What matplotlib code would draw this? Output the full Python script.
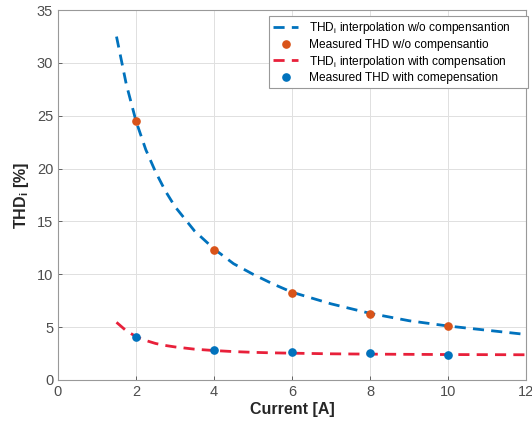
import matplotlib
matplotlib.use("Agg")
import matplotlib.pyplot as plt

plt.rcParams['font.family'] = ['Liberation Sans', 'DejaVu Sans']
plt.rcParams['mathtext.fontset'] = 'custom'
plt.rcParams['mathtext.rm'] = 'Liberation Sans'
plt.rcParams['mathtext.bf'] = 'Liberation Sans:bold'

# Measured points
current_meas = [2, 4, 6, 8, 10]
thd_wo_meas = [24.5, 12.3, 8.2, 6.2, 5.1]
thd_with_meas = [4.1, 2.8, 2.6, 2.5, 2.4]

# Interpolation curves
current_interp = [1.5, 1.75, 2, 2.25, 2.5, 2.75, 3, 3.5, 4, 4.5, 5, 5.5, 6, 7, 8, 9, 10, 11, 12]
thd_wo_interp = [32.5, 28.0, 24.5, 21.8, 19.7, 17.9, 16.4, 14.1, 12.4, 11.0, 10.0, 9.1, 8.3, 7.2, 6.3, 5.6, 5.1, 4.7, 4.3]
thd_with_interp = [5.45, 4.65, 4.1, 3.73, 3.45, 3.26, 3.12, 2.91, 2.78, 2.68, 2.61, 2.56, 2.53, 2.47, 2.44, 2.42, 2.40, 2.39, 2.38]

xticks = [0, 2, 4, 6, 8, 10, 12]
yticks = [0, 5, 10, 15, 20, 25, 30, 35]

blue = '#0072BD'
orange = '#D95319'
red = '#E8203A'

fig = plt.figure(figsize=(5.32, 4.24), dpi=100)
ax = fig.add_axes([0.109, 0.104, 0.880, 0.872])

dash = (0, (4.0, 2.6))
ax.plot(current_interp, thd_wo_interp, linestyle=dash, color=blue, lw=2.0,
        label=r'THD$_\mathregular{i}$ interpolation w/o compensantion')
ax.plot(current_meas, thd_wo_meas, 'o', color=orange, ms=5.2, mec=orange,
        label='Measured THD w/o compensantio')
ax.plot(current_interp, thd_with_interp, linestyle=dash, color=red, lw=2.0,
        label=r'THD$_\mathregular{i}$ interpolation with compensation')
ax.plot(current_meas, thd_with_meas, 'o', color=blue, ms=5.2, mec=blue,
        label='Measured THD with comepensation')

ax.set_xlim(0, 12)
ax.set_ylim(0, 35)
ax.set_xticks(xticks)
ax.set_yticks(yticks)
ax.tick_params(direction='in', length=3, labelsize=10.5, colors='#4d4d4d', width=0.6)
ax.grid(True, color='#e0e0e0', lw=0.7)
ax.set_axisbelow(True)
for s in ax.spines.values():
    s.set_color('#999999')
    s.set_linewidth(0.8)

ax.set_xlabel('Current [A]', fontsize=11.5, fontweight='bold', color='#262626', labelpad=2)
ax.set_ylabel(r'THD$_\mathbf{i}$ [%]', fontsize=11.5, fontweight='bold', color='#262626', labelpad=4)

leg = ax.legend(loc='upper left', bbox_to_anchor=(0.451, 0.984, 0.553, 0.0), mode='expand',
                borderaxespad=0,
                fontsize=8.6, frameon=True, fancybox=False,
                edgecolor='#999999', framealpha=1, borderpad=0.35, labelspacing=0.22,
                handlelength=2.1, handletextpad=0.85)
leg.get_frame().set_linewidth(0.8)

fig.savefig('out.png', dpi=100)
